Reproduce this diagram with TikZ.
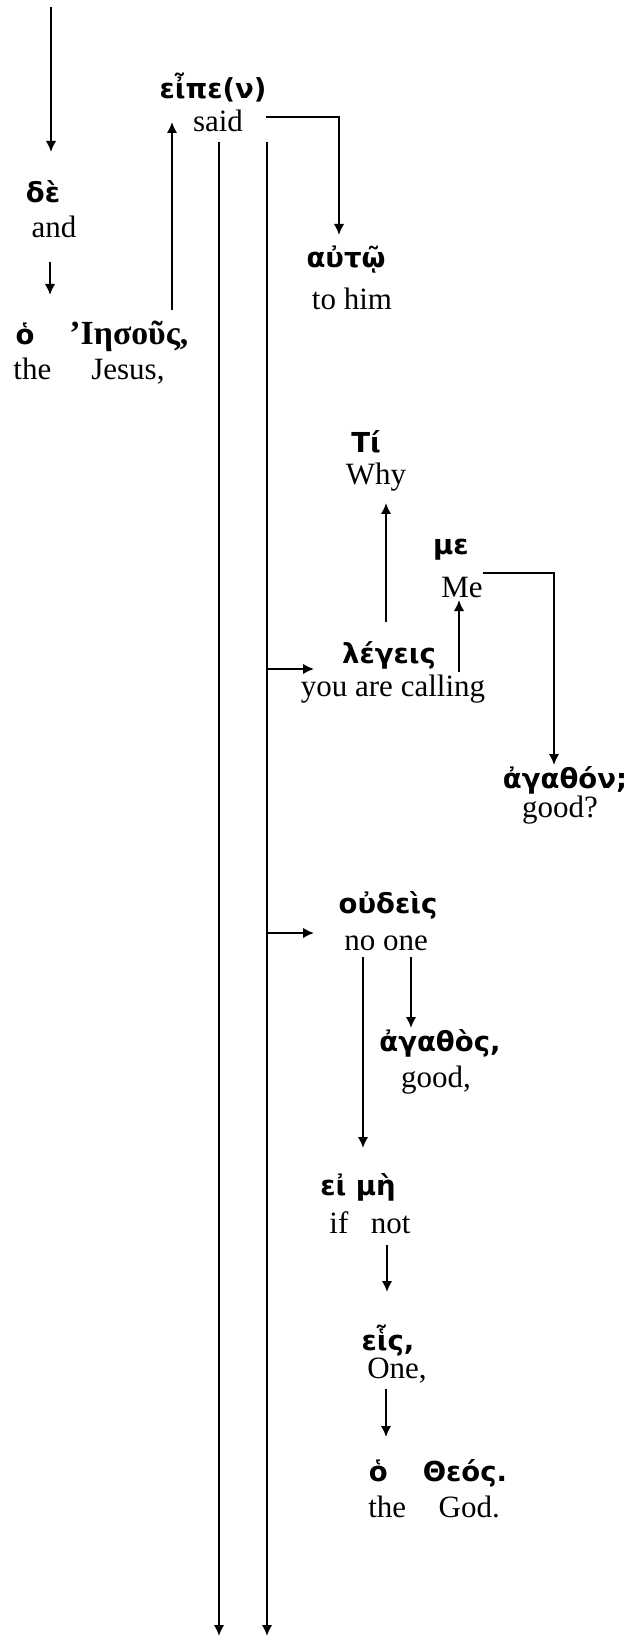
\documentclass[tikz,border=0pt]{standalone}
\usepackage{fontspec}
\setmainfont{Liberation Serif}
\newfontfamily\gkfont{DejaVu Sans}
\usetikzlibrary{arrows.meta}

\tikzset{
  gk/.style={font=\gkfont\bfseries\fontsize{11}{13}\selectfont, anchor=base, inner sep=0pt},
  en/.style={font=\fontsize{12.4}{14}\selectfont, anchor=base, inner sep=0pt},
  arr/.style={-{Latex[length=4.4pt,width=4.2pt]}, line width=0.8pt},
}

\begin{document}
\begin{tikzpicture}[x=0.4pt,y=-0.4pt]
	\useasboundingbox (0,0) rectangle (629,1637);
	% words: greek above, gloss below
	\node[gk] (de)      at (43,203)  {δὲ};
	\node[en] (and)     at (54,238)  {and};
	\node[gk] (iesous)  at (102,345) {ὁ\hspace{14pt}{\rmfamily\fontsize{13.5}{15}\selectfont ’Ιησοῦς,}};
	\node[en] (jesus)   at (89,380)  {the\hspace{16pt}Jesus,};
	\node[gk] (eipe)    at (213,99)  {εἶπε(ν)};
	\node[en] (said)    at (218,132) {said};
	\node[gk] (auto)    at (346,268) {αὐτῷ};
	\node[en] (tohim)   at (352,310) {to him};
	\node[gk] (ti)      at (366,453) {Τί};
	\node[en] (why)     at (376,485) {Why};
	\node[gk] (meg)     at (451,554) {με};
	\node[en] (me)      at (462,597) {Me};
	\node[gk] (legeis)  at (389,663) {λέγεις};
	\node[en] (calling) at (393,696) {you are calling};
	\node[gk] (agathon) at (565,788) {ἀγαθόν;};
	\node[en] (goodq)   at (560,817) {good?};
	\node[gk] (oudeis)  at (388,913) {οὐδεὶς};
	\node[en] (noone)   at (386,950) {no one};
	\node[gk] (agathos) at (440,1051) {ἀγαθὸς,};
	\node[en] (good)    at (436,1087) {good,};
	\node[gk] (eime)    at (358,1195) {εἰ μὴ};
	\node[en] (ifnot)   at (370,1233) {if\hspace{9pt}not};
	\node[gk] (heis)    at (388,1350) {εἷς,};
	\node[en] (one)     at (397,1378) {One,};
	\node[gk] (theos)   at (438,1481) {ὁ\hspace{14pt}Θεός.};
	\node[en] (thegod)  at (434,1517) {the\hspace{13pt}God.};
	% free ends
	\coordinate (top)  at (51,7);
	\coordinate (bot1) at (219,1636);
	\coordinate (bot2) at (267,1636);
	\coordinate (in1) at ([shift={(-75,6)}]legeis.base);
	\coordinate (in2) at ([shift={(-72,-17)}]noone.base);
	% connectors
	\draw[arr] (top) -- ([shift={(8,-51)}]de.base);
	\draw[arr] ([shift={(-4,24)}]and.base) -- ([shift={(-52,-50)}]iesous.base);
	\draw[arr] ([shift={(70,-35)}]iesous.base) -- ([shift={(-46,-10)}]said.base);
	\draw[arr] ([shift={(48,-15)}]said.base) -| ([shift={(-7,-33)}]auto.base);
	\draw[arr] ([shift={(1,10)}]said.base) -- (bot1);
	\draw[arr] ([shift={(49,10)}]said.base) -- (bot2);
	\draw[arr] (bot2 |- in1) -- (in1);
	\draw[arr] ([shift={(-3,-41)}]legeis.base) -- ([shift={(10,18)}]why.base);
	\draw[arr] ([shift={(70,9)}]legeis.base) -- ([shift={(-3,3)}]me.base);
	\draw[arr] ([shift={(21,-24)}]me.base) -| ([shift={(-11,-23)}]agathon.base);
	\draw[arr] (bot2 |- in2) -- (in2);
	\draw[arr] ([shift={(-23,7)}]noone.base) -- ([shift={(5,-47)}]eime.base);
	\draw[arr] ([shift={(25,7)}]noone.base) -- ([shift={(-29,-23)}]agathos.base);
	\draw[arr] ([shift={(17,12)}]ifnot.base) -- ([shift={(-1,-58)}]heis.base);
	\draw[arr] ([shift={(-11,11)}]one.base) -- ([shift={(-52,-44)}]theos.base);
\end{tikzpicture}
\end{document}
